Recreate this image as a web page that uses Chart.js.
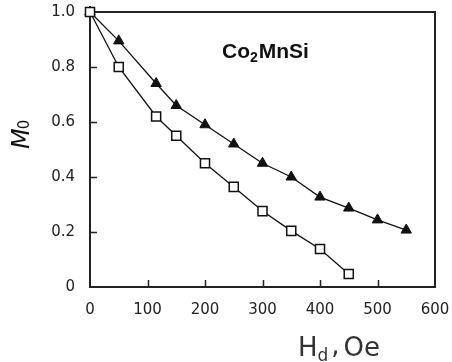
<!DOCTYPE html>
<html><head><meta charset="utf-8">
<script src="https://cdn.jsdelivr.net/npm/chart.js@4"></script>
<style>html,body{margin:0;padding:0;background:#fff}#wrap{width:452px;height:362px}</style>
</head><body><div id="wrap"><canvas id="c" width="452" height="362"></canvas></div>
<script>
const openSquareX = [0, 50, 115, 150, 200, 250, 300, 350, 400, 450];
const openSquareY = [1.0, 0.80, 0.62, 0.55, 0.45, 0.364, 0.276, 0.204, 0.138, 0.047];
const filledTriX = [0, 50, 115, 150, 200, 250, 300, 350, 400, 450, 500, 550];
const filledTriY = [1.0, 0.895, 0.74, 0.66, 0.59, 0.52, 0.45, 0.40, 0.327, 0.287, 0.244, 0.207];
const xTicks = [0, 100, 200, 300, 400, 500, 600];
const yTicks = [0, 0.2, 0.4, 0.6, 0.8, 1.0];
const yTickLabels = ['0', '0.2', '0.4', '0.6', '0.8', '1.0'];

const toPts = (xs, ys) => xs.map((x, i) => ({x, y: ys[i]}));

const frame = {
  id: 'frame',
  beforeDatasetsDraw(chart) {
    const {ctx, chartArea: a, scales: {x, y}} = chart;
    ctx.save();
    ctx.strokeStyle = '#222';
    ctx.lineWidth = 2;
    ctx.strokeRect(a.left, a.top, a.right - a.left, a.bottom - a.top);
    ctx.lineWidth = 1.5;
    ctx.beginPath();
    xTicks.forEach(v => { if (v > 0 && v < 600) { const px = Math.round(x.getPixelForValue(v)) + 0.5; ctx.moveTo(px, a.bottom); ctx.lineTo(px, a.bottom - 7); }});
    yTicks.forEach(v => { if (v > 0 && v < 1) { const py = Math.round(y.getPixelForValue(v)) + 0.5; ctx.moveTo(a.left, py); ctx.lineTo(a.left + 7, py); }});
    ctx.stroke();
    ctx.restore();
  },
  afterDraw(chart) {
    const {ctx} = chart;
    ctx.save();
    ctx.fillStyle = '#111';
    ctx.textBaseline = 'alphabetic';
    ctx.textAlign = 'left';
    let tx = 222, ty = 58;
    ctx.font = 'bold 21px "Liberation Sans", Arial, sans-serif';
    ctx.fillText('Co', tx, ty); tx += ctx.measureText('Co').width;
    ctx.font = 'bold 14px "Liberation Sans", Arial, sans-serif';
    ctx.fillText('2', tx, ty + 4); tx += ctx.measureText('2').width + 1;
    ctx.font = 'bold 21px "Liberation Sans", Arial, sans-serif';
    ctx.fillText('MnSi', tx, ty);
    tx = 298; ty = 356;
    ctx.font = '26px "DejaVu Sans", sans-serif';
    ctx.fillStyle = '#333';
    ctx.fillText('H', tx, ty); tx += ctx.measureText('H').width;
    ctx.font = '17px "DejaVu Sans", sans-serif';
    ctx.fillText('d', tx, ty + 5); tx += ctx.measureText('d').width + 3;
    ctx.font = '26px "DejaVu Sans", sans-serif';
    ctx.fillText(',', tx, ty - 2); tx += ctx.measureText(',').width + 4;
    ctx.fillText('Oe', tx, ty);
    ctx.save();
    ctx.translate(29, 149);
    ctx.rotate(-Math.PI / 2);
    ctx.fillStyle = '#111';
    ctx.font = 'italic 24px "DejaVu Sans", sans-serif';
    ctx.fillText('M', 0, 0);
    const mw = ctx.measureText('M').width;
    ctx.font = '15px "DejaVu Sans", sans-serif';
    ctx.fillText('0', mw - 1, 0);
    ctx.restore();
    ctx.restore();
  }
};

const zeroPad = s => { s.paddingTop = 0; s.paddingBottom = 0; s.paddingLeft = 0; s.paddingRight = 0; };

new Chart(document.getElementById('c'), {
  type: 'scatter',
  data: {
    datasets: [
      {
        data: toPts(openSquareX, openSquareY),
        showLine: true,
        clip: false,
        order: 0,
        borderColor: '#111',
        borderWidth: 1.3,
        pointStyle: 'rect',
        pointRadius: 6.4,
        pointBackgroundColor: '#fff',
        pointBorderColor: '#111',
        pointBorderWidth: 1.5,
        tension: 0
      },
      {
        data: toPts(filledTriX, filledTriY),
        showLine: true,
        clip: false,
        order: 1,
        borderColor: '#111',
        borderWidth: 1.3,
        pointStyle: 'triangle',
        pointRadius: 6,
        pointBackgroundColor: '#111',
        pointBorderColor: '#111',
        pointBorderWidth: 1,
        tension: 0
      }
    ]
  },
  options: {
    responsive: false,
    animation: false,
    devicePixelRatio: 1,
    layout: {padding: {left: 0, top: 12, right: 17, bottom: 0}},
    plugins: {legend: {display: false}, tooltip: {enabled: false}},
    scales: {
      x: {
        type: 'linear', min: 0, max: 600,
        afterBuildTicks: s => { s.ticks = xTicks.map(v => ({value: v})); },
        afterFit: s => { s.height = 75; zeroPad(s); },
        grid: {display: false, drawTicks: false},
        border: {display: false},
        ticks: {padding: 14, color: '#222', font: {family: '"DejaVu Sans", sans-serif', size: 15}}
      },
      y: {
        type: 'linear', min: 0, max: 1.0,
        afterBuildTicks: s => { s.ticks = yTicks.map(v => ({value: v})); },
        afterFit: s => { s.width = 90; zeroPad(s); },
        grid: {display: false, drawTicks: false},
        border: {display: false},
        ticks: {padding: 15, color: '#222', font: {family: '"DejaVu Sans", sans-serif', size: 15},
          callback: (v, i) => yTickLabels[i]}
      }
    }
  },
  plugins: [frame]
});
</script>
</body></html>
